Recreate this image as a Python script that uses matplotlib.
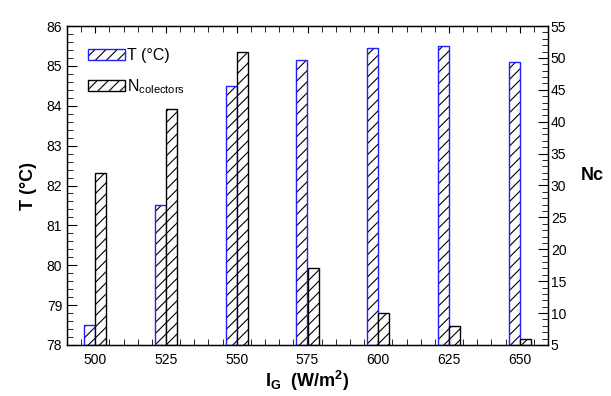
import matplotlib
matplotlib.use('Agg')
import matplotlib.pyplot as plt
import numpy as np
from matplotlib.ticker import MultipleLocator
from matplotlib.patches import Patch

# Data
irradiance = [500, 525, 550, 575, 600, 625, 650]
temperature = [78.5, 81.5, 84.5, 85.15, 85.45, 85.5, 85.1]
n_collectors = [32, 42, 51, 17, 10, 8, 6]
x_tick_labels = ['500', '525', '550', '575', '600', '625', '650']

plt.rcParams['font.family'] = ['Liberation Sans', 'DejaVu Sans']
plt.rcParams['mathtext.fontset'] = 'custom'
plt.rcParams['mathtext.rm'] = 'Liberation Sans'
plt.rcParams['mathtext.it'] = 'Liberation Sans:italic'
plt.rcParams['mathtext.bf'] = 'Liberation Sans:bold'
plt.rcParams['hatch.linewidth'] = 0.8

fig = plt.figure(figsize=(6.11, 3.96), dpi=100)
ax = fig.add_axes([67/611, 51/396, 481/611, 319/396])
ax2 = ax.twinx()

x = np.array(irradiance, dtype=float)
w = 3.9

# T bars: black hatch, blue outline
ax.bar(x - w/2, np.array(temperature) - 78, bottom=78, width=w, color='white',
       edgecolor='black', hatch='///', linewidth=0, zorder=2)
ax.bar(x - w/2, np.array(temperature) - 78, bottom=78, width=w, fill=False,
       edgecolor='#2020ff', linewidth=1.0, zorder=3)

# N bars
ax2.bar(x + w/2, np.array(n_collectors) - 5, bottom=5, width=w, color='white',
        edgecolor='black', hatch='///', linewidth=1.0, zorder=2)

ax.set_xlim(490, 660)
ax.set_ylim(78, 86)
ax2.set_ylim(5, 55)

ax.set_xticks(irradiance)
ax.set_xticklabels(x_tick_labels)
ax.xaxis.set_minor_locator(MultipleLocator(5))
ax.yaxis.set_major_locator(MultipleLocator(1))
ax.yaxis.set_minor_locator(MultipleLocator(0.2))
ax2.yaxis.set_major_locator(MultipleLocator(5))
ax2.yaxis.set_minor_locator(MultipleLocator(1))

ax.tick_params(axis='x', which='both', direction='in', top=True, bottom=True,
               labelsize=10, pad=6)
ax.tick_params(axis='x', which='major', length=5)
ax.tick_params(axis='x', which='minor', length=4)
ax.tick_params(axis='y', which='both', direction='in', left=True, right=False,
               labelsize=10)
ax.tick_params(axis='y', which='major', length=7)
ax.tick_params(axis='y', which='minor', length=4)
ax2.tick_params(axis='y', which='both', direction='in', left=False, right=True,
                labelsize=10, pad=2)
ax2.tick_params(axis='y', which='major', length=7)
ax2.tick_params(axis='y', which='minor', length=4)

for sp in ax2.spines.values():
    sp.set_linewidth(1.0)

ax.set_ylabel('T (°C)', fontsize=13, fontweight='bold')
ax.yaxis.set_label_coords(-0.062, 0.5)
ax.set_xlabel(r'I$_\mathbf{G}$  (W/m$^\mathbf{2}$)', fontsize=13, fontweight='bold',
              labelpad=1)
ax2.set_ylabel('Nc', fontsize=13, fontweight='bold', rotation=0, ha='center', va='center')
ax2.yaxis.set_label_coords(1.091, 0.53)

h_t = (Patch(facecolor='white', edgecolor='black', hatch='///', linewidth=0),
       Patch(fill=False, edgecolor='#2020ff', linewidth=1.0))
h_n = Patch(facecolor='white', edgecolor='black', hatch='///', linewidth=1.0)
ax2.legend([h_t, h_n], ['T (°C)', r'N$_\mathrm{colectors}$'], loc='upper left',
           bbox_to_anchor=(0.02, 0.965), frameon=False, fontsize=11.5,
           handlelength=2.35, handleheight=0.7, labelspacing=0.85,
           handletextpad=0.1, borderaxespad=0.3)

fig.savefig('out.png', dpi=100)
